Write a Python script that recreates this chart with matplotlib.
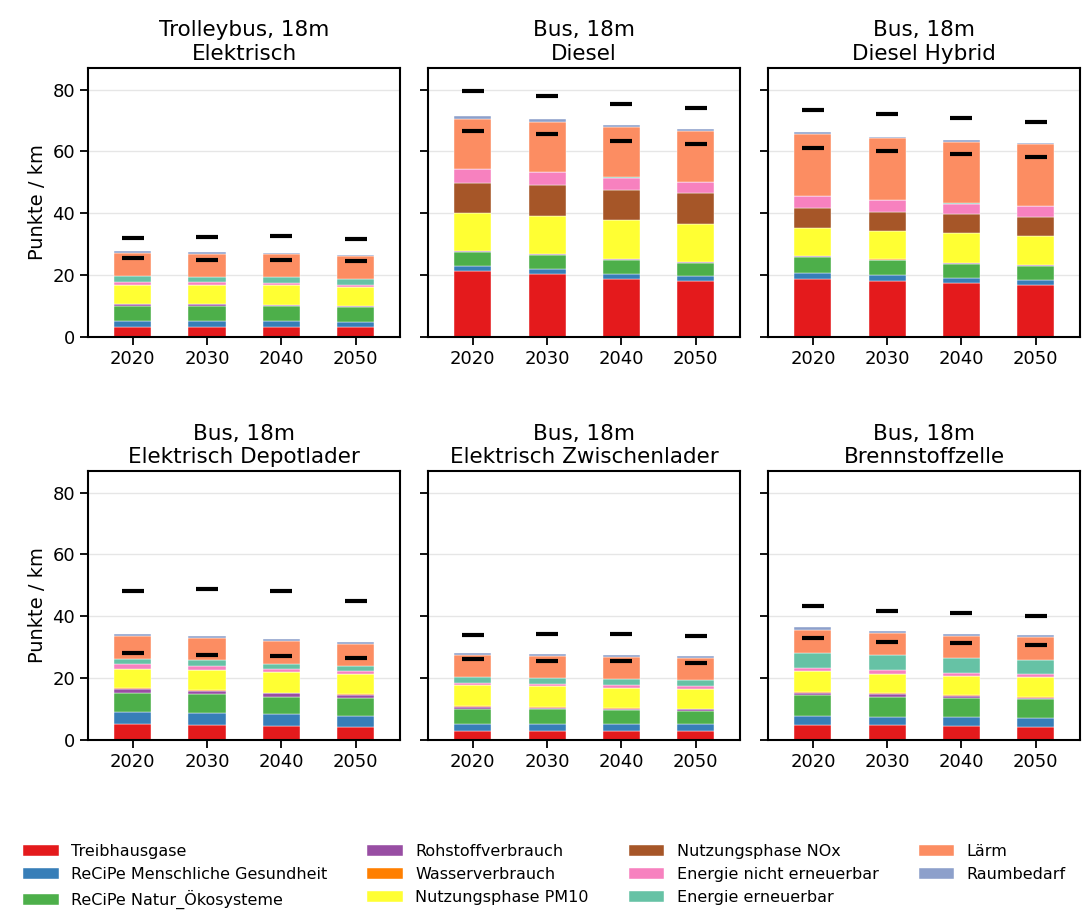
import numpy as np
import matplotlib.pyplot as plt

years = ["2020", "2030", "2040", "2050"]
titles = ["Trolleybus, 18m\nElektrisch", "Bus, 18m\nDiesel", "Bus, 18m\nDiesel Hybrid",
          "Bus, 18m\nElektrisch Depotlader", "Bus, 18m\nElektrisch Zwischenlader", "Bus, 18m\nBrennstoffzelle"]
labels = ["Treibhausgase", "ReCiPe Menschliche Gesundheit", "ReCiPe Natur_Ökosysteme",
          "Rohstoffverbrauch", "Wasserverbrauch", "Nutzungsphase PM10",
          "Nutzungsphase NOx", "Energie nicht erneuerbar", "Energie erneuerbar",
          "Lärm", "Raumbedarf"]
colors = ["#e41a1c", "#377eb8", "#4daf4a", "#984ea3", "#ff7f00", "#ffff33",
          "#a65628", "#f781bf", "#66c2a5", "#fc8d62", "#8da0cb"]

# component values per panel: rows = components (same order as labels), cols = years
trolley = [[3, 3, 3, 3], [2, 2, 2, 1.9], [5, 5, 4.8, 4.6], [0.6, 0.5, 0.5, 0.4],
           [0.1, 0.1, 0.1, 0.1], [6.2, 6.2, 6.2, 6.2], [0, 0, 0, 0], [0.9, 0.8, 0.8, 0.7],
           [1.9, 1.8, 1.8, 1.8], [7.5, 7.5, 7.5, 7.3], [0.5, 0.5, 0.5, 0.5]]
diesel = [[21.2, 20.2, 18.8, 18], [1.7, 1.7, 1.6, 1.6], [4.5, 4.5, 4.5, 4.3], [0.3, 0.3, 0.3, 0.3],
          [0.1, 0.1, 0.1, 0.1], [12.3, 12.3, 12.5, 12.3], [9.6, 9.9, 9.8, 9.8], [4.5, 4.2, 3.9, 3.6],
          [0.1, 0.1, 0.1, 0.1], [16.2, 16.3, 16.3, 16.4], [0.9, 0.8, 0.7, 0.7]]
hybrid = [[18.7, 18, 17.3, 16.6], [2, 1.9, 1.8, 1.7], [5, 4.8, 4.5, 4.5], [0.3, 0.3, 0.3, 0.3],
          [0.1, 0.1, 0.1, 0.1], [9.2, 9.2, 9.5, 9.4], [6.3, 6.2, 6.1, 6.2], [4, 3.7, 3.5, 3.4],
          [0.1, 0.1, 0.1, 0.1], [20, 20, 20, 20], [0.5, 0.5, 0.5, 0.5]]
depot = [[5, 4.8, 4.6, 4.3], [4, 4, 3.7, 3.4], [6.2, 5.9, 5.6, 5.7], [1.2, 1.2, 1.1, 1],
         [0.3, 0.3, 0.3, 0.3], [6.3, 6.5, 6.5, 6.6], [0, 0, 0, 0], [1.5, 1.3, 1.2, 1.1],
         [1.7, 1.7, 1.7, 1.5], [7.5, 7.4, 7.3, 7.2], [0.6, 0.6, 0.6, 0.6]]
zwischen = [[3, 3, 3, 3], [2.2, 2.2, 2.1, 2], [4.8, 4.7, 4.5, 4.4], [0.6, 0.5, 0.5, 0.5],
            [0.2, 0.2, 0.2, 0.2], [6.8, 6.7, 6.6, 6.5], [0, 0, 0, 0], [0.8, 0.8, 0.9, 0.9],
            [2, 2, 1.9, 1.9], [7, 7, 7, 7], [0.6, 0.6, 0.6, 0.6]]
bz = [[4.8, 4.7, 4.6, 4.3], [2.8, 2.8, 2.7, 2.6], [6.8, 6.5, 6.2, 6.2], [0.8, 0.7, 0.6, 0.5],
      [0.3, 0.3, 0.3, 0.3], [6.8, 6.4, 6.2, 6.5], [0, 0, 0, 0], [1.1, 1.1, 1, 0.9],
      [4.8, 4.8, 4.8, 4.6], [7.5, 7.3, 7.3, 7.4], [0.7, 0.6, 0.6, 0.5]]

upper = [[32, 32.3, 32.5, 31.5], [79.5, 78, 75.5, 74], [73.5, 72, 70.7, 69.5],
         [48.3, 48.8, 48.1, 45], [33.8, 34.2, 34.4, 33.5], [43.2, 41.8, 41, 40]]
lower = [[25.5, 25, 24.8, 24.4], [66.5, 65.5, 63.5, 62.3], [61.2, 60, 59.3, 58.3],
         [28, 27.5, 27, 26.5], [26, 25.6, 25.4, 24.9], [32.8, 31.8, 31.2, 30.6]]

panels = [trolley, diesel, hybrid, depot, zwischen, bz]

fig, axes = plt.subplots(2, 3, figsize=(10.89, 9.19), dpi=100, sharey=True)
plt.subplots_adjust(left=0.081, right=0.992, top=0.926, bottom=0.195, wspace=0.09, hspace=0.5)
x = np.arange(len(years))
for i, ax in enumerate(axes.flat):
    data = np.array(panels[i], dtype=float)
    bottom = np.zeros(len(years))
    for j, row in enumerate(data):
        ax.bar(x, row, 0.5, bottom=bottom, color=colors[j], label=labels[j],
               edgecolor="white", linewidth=0.3, zorder=2)
        bottom += row
    ax.scatter(x, upper[i], marker="_", s=250, color="black", linewidths=3, zorder=3)
    ax.scatter(x, lower[i], marker="_", s=250, color="black", linewidths=3, zorder=3)
    ax.set_title(titles[i], fontsize=15.5)
    ax.set_xticks(x)
    ax.set_xticklabels(years, fontsize=13)
    ax.set_xlim(-0.6, 3.6)
    ax.set_ylim(0, 87)
    ax.set_yticks([0, 20, 40, 60, 80])
    ax.tick_params(axis="y", labelsize=13, length=6, width=1.3)
    ax.tick_params(axis="x", length=6, width=1.3)
    ax.grid(axis="y", color="#e6e6e6", linewidth=1, zorder=0)
    for s in ax.spines.values():
        s.set_linewidth(1.5)
    if i % 3 == 0:
        ax.set_ylabel("Punkte / km", fontsize=14)

handles, labs = axes[0, 0].get_legend_handles_labels()
fig.legend(handles, labs, loc="lower center", ncol=4, fontsize=11.5, frameon=False,
           bbox_to_anchor=(0.5, -0.005), columnspacing=2.5, handlelength=2.2)
fig.savefig("out.png", dpi=100)
